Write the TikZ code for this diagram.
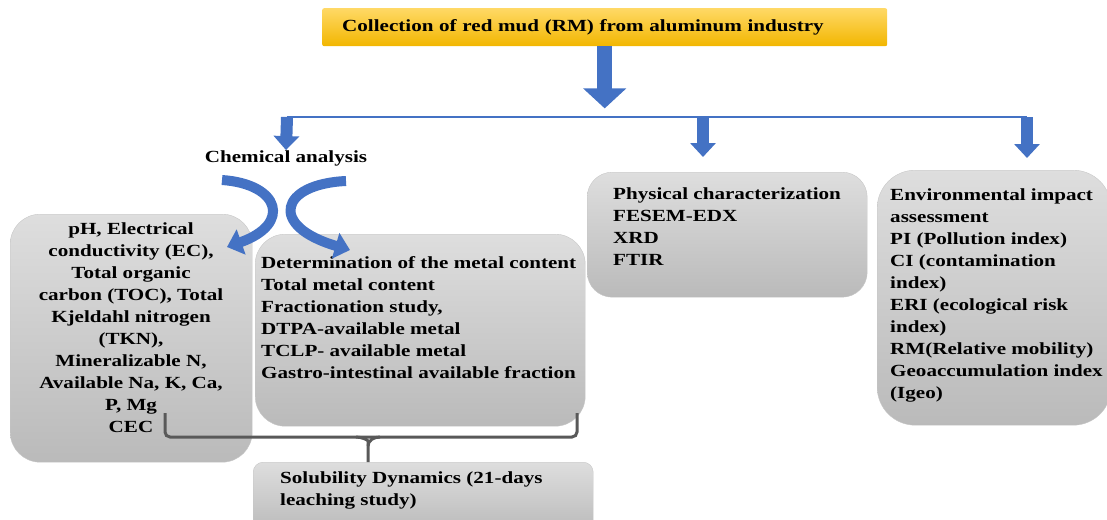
\documentclass[tikz,border=0pt]{standalone}
\usepackage{fontspec}
\setmainfont{Liberation Serif}[FakeStretch=1.24]
\usetikzlibrary{arrows.meta}

\definecolor{arrblue}{HTML}{4472C4}
\definecolor{bracegray}{HTML}{595959}
\definecolor{rmtop}{HTML}{FFD966}
\definecolor{rmbot}{HTML}{F2B600}

\begin{document}
\begin{tikzpicture}[x=1pt, y=-1pt, font=\fontsize{17}{22}\selectfont\bfseries,
        box/.style={draw=black!22, top color=black!13, bottom color=black!27, rounded corners=30pt, anchor=north west},
        txt/.style={inner sep=0pt, align=left, anchor=north west},
        bigarrow/.style={arrblue, line width=15pt, -{Triangle[length=20pt, width=42pt]}},
        smallarrow/.style={arrblue, line width=12pt, -{Triangle[length=14pt, width=25pt]}},
        curvearrow/.style={arrblue, line width=10pt, -{Triangle[length=15pt, width=26pt]}},
        bracestyle/.style={bracegray, line width=3pt, rounded corners=5pt}]
        \useasboundingbox (0, 0) rectangle (1107, 519);

        % Source
        \node[top color=rmtop, bottom color=rmbot, rounded corners=2pt, text width=525pt, inner xsep=20pt, minimum height=38pt, align=left, anchor=north west] (rm) at (322, 8) {Collection of red mud (RM) from aluminum industry};

        % Result boxes
        \node[box, minimum width=242pt, minimum height=248pt] (chem) at (10, 214) {};
        \node[box, minimum width=330pt, minimum height=192pt] (metal) at (255, 234) {};
        \node[box, rounded corners=25pt, minimum width=280pt, minimum height=125pt] (phys) at (587, 172) {};
        \node[box, rounded corners=38pt, minimum width=234pt, minimum height=255pt] (env) at (877, 170) {};
        \node[box, rounded corners=10pt, minimum width=340pt, minimum height=70pt] (sol) at (253, 462) {};

        \node[txt, align=center, anchor=north] (chemtxt) at (131, 222) {pH, Electrical\\conductivity (EC),\\Total organic\\carbon (TOC), Total\\Kjeldahl nitrogen\\(TKN),\\Mineralizable N,\\Available Na, K, Ca,\\P, Mg\\CEC};
        \node[txt] (metaltxt) at (261, 256) {Determination of the metal content\\Total metal content\\Fractionation study,\\DTPA-available metal\\TCLP- available metal\\Gastro-intestinal available fraction};
        \node[txt] (phystxt) at (613, 188) {Physical characterization\\FESEM-EDX\\XRD\\FTIR};
        \node[txt] (envtxt) at (890, 188) {Environmental impact\\assessment\\PI (Pollution index)\\CI (contamination\\index)\\ERI (ecological risk\\index)\\RM(Relative mobility)\\Geoaccumulation index\\(Igeo)};
        \node[txt] (soltxt) at (280, 471) {Solubility Dynamics (21-days\\leaching study)};

        \node[inner sep=0pt] (chemlbl) at (286, 158) {Chemical analysis};

        % Split
        \coordinate (sleft) at (287, 117);
        \coordinate (smid) at (703, 117);
        \coordinate (sright) at (1027, 117);
        \draw[bigarrow] (rm.south) -- ++(0, 62);
        \draw[arrblue, line width=2pt] (sleft) -- (sright);
        \draw[smallarrow] (sleft) -- (chemlbl.north);
        \draw[smallarrow] (smid) -- ([yshift=15pt]smid |- phys.north);
        \draw[smallarrow] (sright) -- ([yshift=12pt]sright |- env.north);

        % Chemical analysis branches
        \coordinate (ltail) at (222, 180);
        \coordinate (rtail) at (346, 181);
        \coordinate (ltip) at (227, 247);
        \coordinate (rtip) at (350, 250);
        \draw[curvearrow] (ltail) .. controls (280, 184) and (292, 224) .. (ltip);
        \draw[curvearrow] (rtail) .. controls (280, 184) and (268, 226) .. (rtip);

        % Brace to leaching study
        \coordinate (bl) at (165, 413);
        \coordinate (br) at (577, 413);
        \coordinate (bmid) at (368, 437);
        \draw[bracestyle] (bl) -- (bl |- bmid) -- (br |- bmid) -- (br);
        \draw[bracestyle] ([xshift=-12pt]bmid) to[out=0, in=90] ([yshift=-9pt]bmid) -- (bmid |- sol.north);
        \draw[bracestyle] ([xshift=12pt]bmid) to[out=180, in=90] ([yshift=-9pt]bmid);
\end{tikzpicture}
\end{document}
